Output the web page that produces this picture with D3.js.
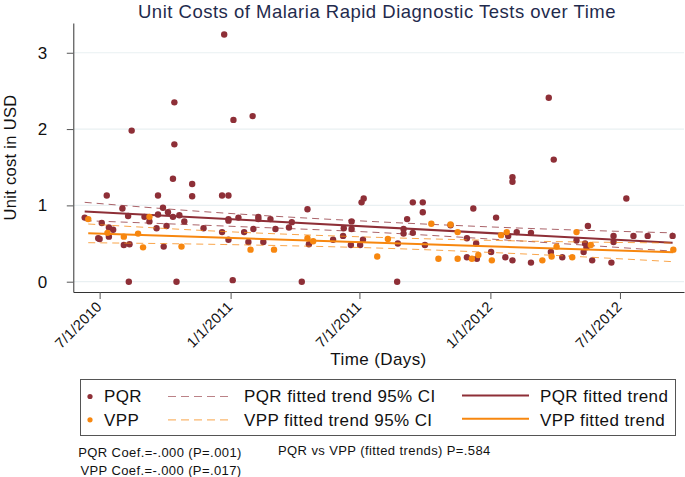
<!DOCTYPE html>
<html>
<head>
<meta charset="utf-8">
<script src="https://cdn.jsdelivr.net/npm/d3@7"></script>
<style>
  html, body { margin: 0; padding: 0; background: #fff; }
  svg { display: block; font-family: "Liberation Sans", Arial, Helvetica, sans-serif; }
</style>
</head>
<body>
<svg id="chart" width="685" height="477"></svg>
<script>
// ---------- data ----------
const pqrDates = ["2010-06-10","2010-06-29","2010-07-01","2010-07-04","2010-07-11","2010-07-14","2010-07-14","2010-07-20","2010-08-02","2010-08-04","2010-08-10","2010-08-11","2010-08-12","2010-08-15","2010-09-02","2010-09-09","2010-09-19","2010-09-21","2010-09-21","2010-09-28","2010-09-29","2010-10-03","2010-10-05","2010-10-12","2010-10-12","2010-10-14","2010-10-14","2010-10-17","2010-10-21","2010-10-28","2010-11-08","2010-11-08","2010-11-24","2010-12-20","2010-12-20","2010-12-23","2010-12-29","2010-12-29","2010-12-29","2010-12-29","2011-01-04","2011-01-05","2011-01-12","2011-01-20","2011-01-26","2011-02-01","2011-02-02","2011-02-09","2011-02-09","2011-02-16","2011-02-26","2011-03-05","2011-03-24","2011-03-28","2011-04-11","2011-04-19","2011-04-21","2011-05-25","2011-06-08","2011-06-09","2011-06-19","2011-06-20","2011-06-20","2011-07-02","2011-07-04","2011-07-06","2011-07-07","2011-08-23","2011-08-24","2011-09-01","2011-09-01","2011-09-06","2011-09-14","2011-09-14","2011-09-28","2011-09-28","2011-10-01","2011-11-06","2011-11-29","2011-11-29","2011-12-08","2011-12-12","2011-12-13","2012-01-02","2012-01-09","2012-01-22","2012-01-26","2012-02-01","2012-02-01","2012-02-01","2012-02-07","2012-02-27","2012-02-27","2012-03-23","2012-03-26","2012-03-30","2012-04-11","2012-05-01","2012-05-11","2012-05-13","2012-05-15","2012-05-17","2012-05-23","2012-06-19","2012-06-22","2012-06-22","2012-07-10","2012-07-20","2012-08-09","2012-09-13"];
const pqrCosts = [0.84,0.57,0.56,0.77,1.13,0.71,0.59,0.68,0.96,0.48,0.86,0.00,0.49,1.98,0.85,0.79,0.70,1.13,0.88,0.97,0.46,0.73,0.91,1.35,0.85,2.35,1.80,0.00,0.87,0.79,1.28,1.12,0.70,1.13,0.65,3.24,1.13,0.82,0.80,0.55,0.02,2.12,0.84,0.65,0.52,2.17,0.69,0.85,0.82,0.52,0.82,0.69,0.71,0.78,0.00,0.95,0.49,0.55,0.60,0.70,0.48,0.79,0.69,0.48,1.04,0.55,1.09,0.00,0.50,0.69,0.63,0.82,1.04,0.64,1.04,0.91,0.48,0.74,0.57,0.32,0.96,0.50,0.30,0.39,0.84,0.32,0.60,1.37,1.31,0.28,0.65,0.64,0.25,2.41,0.39,1.60,0.32,0.54,0.39,0.50,0.45,0.73,0.28,0.25,0.60,0.52,1.09,0.60,0.60,0.60];

const vppDates = ["2010-06-15","2010-07-12","2010-08-04","2010-08-24","2010-08-31","2010-09-09","2010-10-24","2011-01-29","2011-03-03","2011-04-19","2011-04-27","2011-07-26","2011-08-10","2011-10-10","2011-10-20","2011-11-06","2011-11-16","2011-11-16","2011-12-06","2011-12-15","2012-01-03","2012-01-16","2012-01-24","2012-03-14","2012-03-27","2012-04-03","2012-04-25","2012-05-01","2012-05-21","2012-09-14"];
const vppCosts = [0.82,0.64,0.59,0.63,0.45,0.85,0.46,0.42,0.42,0.57,0.53,0.33,0.56,0.76,0.30,0.75,0.65,0.30,0.30,0.35,0.28,0.61,0.65,0.28,0.33,0.46,0.32,0.65,0.48,0.42];

// fitted trends (end points) and 95% CI bounds read at five dates
const pqrTrendDates = ["2010-06-10","2012-09-13"];
const pqrTrend      = [0.92, 0.51];
const vppTrendDates = ["2010-06-15","2012-09-14"];
const vppTrend      = [0.634, 0.385];
const pqrCIDates = ["2010-06-10","2010-12-22","2011-07-27","2012-02-19","2012-09-13"];
const pqrUpper   = [1.04, 0.90, 0.785, 0.70, 0.64];
const pqrLower   = [0.80, 0.73, 0.645, 0.53, 0.40];
const vppCIDates = ["2010-06-15","2010-12-24","2011-07-30","2012-02-21","2012-09-14"];
const vppUpper   = [0.756, 0.657, 0.58, 0.532, 0.507];
const vppLower   = [0.511, 0.487, 0.44, 0.362, 0.262];

const yTicks = [0, 1, 2, 3];
const xTickDates = ["2010-07-01","2011-01-01","2011-07-01","2012-01-01","2012-07-01"];

const titleText = "Unit Costs of Malaria Rapid Diagnostic Tests over Time";
const yTitle = "Unit cost in USD";
const xTitle = "Time (Days)";
const noteLines = ["PQR Coef.=-.000 (P=.001)", "VPP Coef.=-.000 (P=.017)"];
const noteCompare = "PQR vs VPP (fitted trends) P=.584";

// ---------- styles ----------
const maroon = "#8e2f37";
const orange = "#f7870f";
const parse = d3.timeParse("%Y-%m-%d");

const svg = d3.select("#chart");

const x = d3.scaleTime()
  .domain([parse("2010-05-25"), parse("2012-09-29")])
  .range([73.3, 684]);
const y = d3.scaleLinear()
  .domain([-0.135, 3.39])
  .range([292, 23]);

// gridlines
svg.append("g").selectAll("line").data(yTicks).join("line")
  .attr("x1", 74).attr("x2", 684)
  .attr("y1", d => y(d)).attr("y2", d => y(d))
  .attr("stroke", "#e9f0f2").attr("stroke-width", 1.2);

// y axis
const yAxis = svg.append("g").attr("transform", "translate(73.3,0)")
  .call(d3.axisLeft(y).tickValues(yTicks).tickFormat(d3.format("d")).tickSize(6.5).tickSizeOuter(0));
yAxis.select(".domain").attr("stroke", "#333");
yAxis.selectAll(".tick line").attr("stroke", "#555");
yAxis.selectAll(".tick text")
  .attr("x", -26).attr("font-size", 17).attr("fill", "#111")
  .attr("font-family", "Liberation Sans, Arial, sans-serif");

// x axis
const xAxis = svg.append("g").attr("transform", "translate(0,292)")
  .call(d3.axisBottom(x).tickValues(xTickDates.map(parse))
    .tickFormat(d3.timeFormat("%-m/%-d/%Y")).tickSize(7).tickSizeOuter(0));
xAxis.select(".domain").attr("stroke", "#333");
xAxis.selectAll(".tick line").attr("stroke", "#555");
xAxis.selectAll(".tick text")
  .attr("font-size", 14.5).attr("letter-spacing", 0.3).attr("fill", "#111")
  .attr("text-anchor", "end")
  .attr("y", 0).attr("dy", "0.35em")
  .attr("transform", "translate(-1,12) rotate(-45)")
  .attr("font-family", "Liberation Sans, Arial, sans-serif");

// series drawing helpers
const line = d3.line().x(d => x(d[0])).y(d => y(d[1]));
const curve = d3.line().x(d => x(d[0])).y(d => y(d[1])).curve(d3.curveMonotoneX);

function drawSeries(dates, costs, color, ciDates, upper, lower, trendDates, trend) {
  const g = svg.append("g");
  g.selectAll("circle").data(dates.map((d, i) => [parse(d), costs[i]])).join("circle")
    .attr("cx", d => x(d[0])).attr("cy", d => y(d[1])).attr("r", 3.2)
    .attr("fill", color);
  [upper, lower].forEach(arr => {
    g.append("path").datum(ciDates.map((d, i) => [parse(d), arr[i]]))
      .attr("d", curve).attr("fill", "none")
      .attr("stroke", color).attr("stroke-opacity", 0.75)
      .attr("stroke-width", 1).attr("stroke-dasharray", "7,5");
  });
  g.append("path").datum(trendDates.map((d, i) => [parse(d), trend[i]]))
    .attr("d", line).attr("fill", "none").attr("stroke", color).attr("stroke-width", 2);
}
drawSeries(pqrDates, pqrCosts, maroon, pqrCIDates, pqrUpper, pqrLower, pqrTrendDates, pqrTrend);
drawSeries(vppDates, vppCosts, orange, vppCIDates, vppUpper, vppLower, vppTrendDates, vppTrend);

// titles
svg.append("text").attr("x", 377).attr("y", 17.5).attr("text-anchor", "middle")
  .attr("font-size", 18.5).attr("letter-spacing", 0.5).attr("fill", "#1f2b4d").text(titleText);
svg.append("text").attr("transform", "translate(15.5,157.5) rotate(-90)").attr("text-anchor", "middle")
  .attr("font-size", 16.5).attr("letter-spacing", 0.3).attr("fill", "#111").text(yTitle);
svg.append("text").attr("x", 378.5).attr("y", 365).attr("text-anchor", "middle")
  .attr("font-size", 17).attr("letter-spacing", 0.4).attr("fill", "#111").text(xTitle);

// legend
const lg = svg.append("g");
lg.append("rect").attr("x", 80.5).attr("y", 379.5).attr("width", 595).attr("height", 56)
  .attr("fill", "#fff").attr("stroke", "#555").attr("stroke-width", 1);
const legendRows = [
  { name: "PQR", color: maroon, yMark: 396.5, yText: 402.3 },
  { name: "VPP", color: orange, yMark: 419.8, yText: 425.6 }
];
legendRows.forEach(r => {
  lg.append("circle").attr("cx", 90).attr("cy", r.yMark).attr("r", 2.6).attr("fill", r.color);
  lg.append("text").attr("x", 104).attr("y", r.yText).attr("font-size", 17).attr("letter-spacing", 0.4)
    .attr("fill", "#111").text(r.name);
  lg.append("line").attr("x1", 168).attr("x2", 233).attr("y1", r.yMark).attr("y2", r.yMark)
    .attr("stroke", r.color).attr("stroke-opacity", 0.6).attr("stroke-width", 1.2)
    .attr("stroke-dasharray", "8,5");
  lg.append("text").attr("x", 244).attr("y", r.yText).attr("font-size", 17).attr("letter-spacing", 0.4)
    .attr("fill", "#111").text(r.name + " fitted trend 95% CI");
  lg.append("line").attr("x1", 462).attr("x2", 529).attr("y1", r.yMark - 1).attr("y2", r.yMark - 1)
    .attr("stroke", r.color).attr("stroke-width", 2);
  lg.append("text").attr("x", 540).attr("y", r.yText).attr("font-size", 17).attr("letter-spacing", 0.4)
    .attr("fill", "#111").text(r.name + " fitted trend");
});

// notes
svg.append("text").attr("x", 160).attr("y", 457).attr("text-anchor", "middle")
  .attr("font-size", 13).attr("letter-spacing", 0.4).attr("fill", "#111").text(noteLines[0]);
svg.append("text").attr("x", 161).attr("y", 475).attr("text-anchor", "middle")
  .attr("font-size", 13).attr("letter-spacing", 0.4).attr("fill", "#111").text(noteLines[1]);
svg.append("text").attr("x", 278).attr("y", 455)
  .attr("font-size", 13).attr("letter-spacing", 0.4).attr("fill", "#111").text(noteCompare);
</script>
</body>
</html>
